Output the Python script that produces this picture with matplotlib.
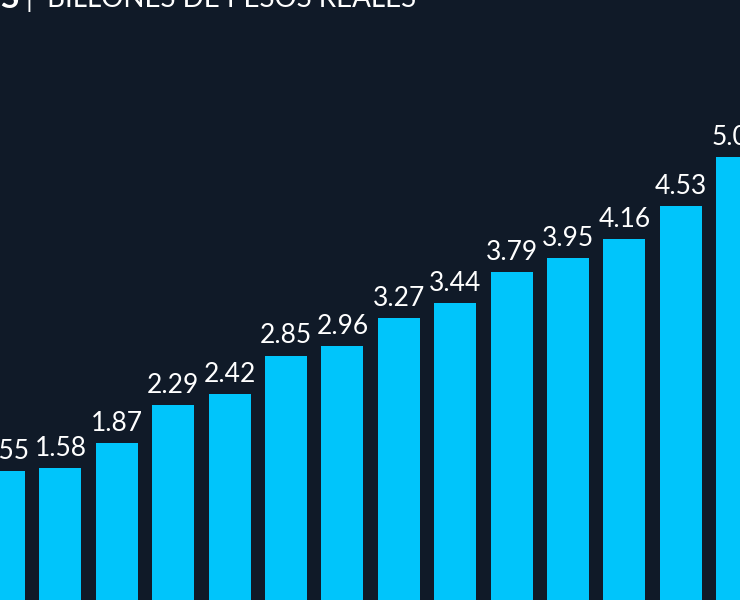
import matplotlib
matplotlib.use("Agg")
import matplotlib.pyplot as plt

values = [1.55, 1.58, 1.87, 2.29, 2.42, 2.85, 2.96, 3.27, 3.44, 3.79, 3.95, 4.16, 4.53, 5.08]
labels = [f"{v:.2f}" for v in values]
bg = "#101a28"
bar_color = "#00c5fb"

fig = plt.figure(figsize=(7.4, 6.0), dpi=100, facecolor=bg)
ax = fig.add_axes([0, 0, 1, 1], facecolor=bg)
x = list(range(len(values)))
ax.bar(x, values, width=0.745, color=bar_color)
for xi, v, lab in zip(x, values, labels):
    ax.text(xi, v + 0.08, lab, ha="center", va="bottom", color="white",
            fontsize=19, family="Lato")
ax.set_xlim(-0.071, 13.05)
ax.set_ylim(0.10, 6.85)
ax.axis("off")
fig.text(0.0, 1.003, "S", ha="left", va="center", color="white", fontsize=24,
         fontweight="bold", family="Lato")
fig.text(0.035, 1.003, "|  BILLONES DE PESOS REALES", ha="left", va="center",
         color="white", fontsize=20, family="Lato")
fig.savefig("out.png", dpi=100, facecolor=bg)
